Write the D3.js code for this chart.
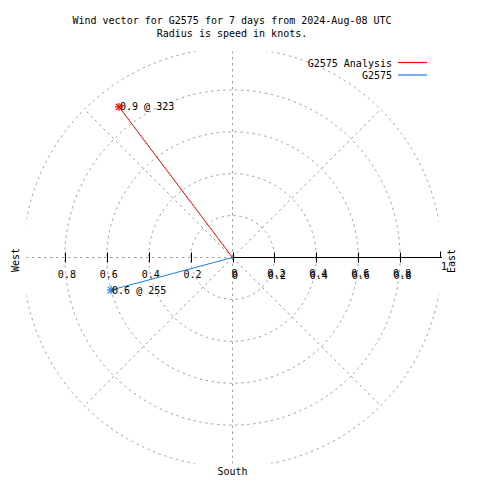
<!DOCTYPE html>
<html><head><meta charset="utf-8">
<script src="https://cdn.jsdelivr.net/npm/d3@7"></script>
<style>
body{margin:0;background:#fff;}
text{font-family:"DejaVu Sans Mono",monospace;font-size:10px;fill:#000;}
</style></head>
<body><svg id="c" width="480" height="480"></svg>
<script>
const titleLines = ["Wind vector for G2575 for 7 days from 2024-Aug-08 UTC", "Radius is speed in knots."];
const seriesNames = ["G2575 Analysis", "G2575"];
const seriesColors = ["#ff0000", "#1a80e6"];
const speeds = [0.9, 0.6];
const directions = [323, 255];
const gridRadii = [0.2, 0.4, 0.6, 0.8, 1.0];
const spokeAngles = [0, 45, 90, 135, 180, 225, 270, 315];
const rightTicks = [0, 0.2, 0.4, 0.6, 0.8, 1];
const leftTicks = [0.8, 0.6, 0.4, 0.2];
const compassLabels = ["East", "West", "South"];

const svg = d3.select("#c");
const cx = 232.5, cy = 257.5;
const r = d3.scaleLinear().domain([0, 1]).range([0, 209.5]);
const xs = d3.scaleLinear().domain([-1, 1]).range([cx - 209.5, cx + 209.5]);
const px = (s, a) => cx + r(s) * Math.sin(a * Math.PI / 180);
const py = (s, a) => cy - r(s) * Math.cos(a * Math.PI / 180);

svg.append("clipPath").attr("id", "gclip").append("rect")
  .attr("x", cx - 206).attr("y", cy - 206).attr("width", 412).attr("height", 412);

const grid = svg.append("g").attr("clip-path", "url(#gclip)")
  .attr("fill", "none").attr("stroke", "#a0a0a0").attr("stroke-width", 1)
  .attr("stroke-dasharray", "2.5,3.5");
grid.selectAll("circle").data(gridRadii).join("circle")
  .attr("cx", cx).attr("cy", cy).attr("r", d => r(d));
grid.selectAll("line").data(spokeAngles).join("line")
  .attr("x1", cx).attr("y1", cy)
  .attr("x2", d => px(1, d)).attr("y2", d => py(1, d));

// axis
const ax = svg.append("g").attr("stroke", "#000").attr("stroke-width", 1);
ax.append("line").attr("x1", xs(0)).attr("x2", xs(1)).attr("y1", cy).attr("y2", cy);
ax.selectAll("line.rt").data(rightTicks.slice(0, -1)).join("line").attr("class", "rt")
  .attr("x1", d => Math.round(xs(d)) + 0.5).attr("x2", d => Math.round(xs(d)) + 0.5)
  .attr("y1", cy - 5).attr("y2", cy + 5);
ax.append("line").attr("x1", Math.round(xs(1)) - 1.5).attr("x2", Math.round(xs(1)) - 1.5)
  .attr("y1", cy - 6).attr("y2", cy);
ax.selectAll("line.lt").data(leftTicks).join("line").attr("class", "lt")
  .attr("x1", d => Math.round(xs(-d)) + 0.5).attr("x2", d => Math.round(xs(-d)) + 0.5)
  .attr("y1", cy - 5).attr("y2", cy + 5);

// tick labels (right side is overprinted twice, as in the reference)
svg.selectAll("text.ll").data(leftTicks).join("text").attr("class", "ll")
  .attr("x", d => xs(-d) + 2).attr("y", 278).attr("text-anchor", "middle")
  .text(d => d3.format("")(d));
svg.selectAll("text.rl").data(rightTicks.slice(0, -1)).join("text").attr("class", "rl")
  .attr("x", d => xs(d) + 2).attr("y", 276.5).attr("text-anchor", "middle")
  .text(d => d3.format("")(d));
svg.selectAll("text.rl2").data(rightTicks.slice(0, -1)).join("text").attr("class", "rl2")
  .attr("x", d => xs(d) + 2.5).attr("y", 278.5).attr("text-anchor", "middle")
  .text(d => d3.format("")(d));
svg.append("text").attr("x", xs(1) + 2).attr("y", 270).attr("text-anchor", "middle").text("1");

// compass labels
svg.append("text").attr("transform", "translate(455,261) rotate(-90)")
  .attr("text-anchor", "middle").text(compassLabels[0]);
svg.append("text").attr("transform", "translate(19,260) rotate(-90)")
  .attr("text-anchor", "middle").text(compassLabels[1]);
svg.append("text").attr("x", cx).attr("y", 475).attr("text-anchor", "middle").text(compassLabels[2]);

// title
svg.selectAll("text.title").data(titleLines).join("text").attr("class", "title")
  .attr("x", 232).attr("y", (d, i) => 24 + i * 12.5).attr("text-anchor", "middle").text(d => d);

// vectors
const data = seriesNames.map((n, i) => ({name: n, color: seriesColors[i], s: speeds[i], a: directions[i]}));
const vg = svg.append("g");
vg.selectAll("line").data(data).join("line")
  .attr("x1", cx).attr("y1", cy)
  .attr("x2", d => px(d.s, d.a)).attr("y2", d => py(d.s, d.a))
  .attr("stroke", d => d.color).attr("stroke-width", 1);
const star = vg.selectAll("g.star").data(data).join("g").attr("class", "star")
  .attr("transform", d => `translate(${px(d.s, d.a)},${py(d.s, d.a)})`)
  .attr("stroke", d => d.color).attr("stroke-width", 1.2);
const k = 4;
star.append("line").attr("x1", -k).attr("x2", k).attr("y1", 0).attr("y2", 0);
star.append("line").attr("x1", 0).attr("x2", 0).attr("y1", -k).attr("y2", k);
star.append("line").attr("x1", -k * 0.8).attr("x2", k * 0.8).attr("y1", -k * 0.8).attr("y2", k * 0.8);
star.append("line").attr("x1", -k * 0.8).attr("x2", k * 0.8).attr("y1", k * 0.8).attr("y2", -k * 0.8);
vg.selectAll("text").data(data).join("text")
  .attr("x", d => px(d.s, d.a) + 1).attr("y", d => py(d.s, d.a) + 3.5)
  .text(d => `${d.s} @ ${d.a}`);

// legend
const lg = svg.append("g");
data.forEach((d, i) => {
  lg.append("text").attr("x", 392).attr("y", 67 + i * 12).attr("text-anchor", "end").text(d.name);
  lg.append("line").attr("x1", 398).attr("x2", 427).attr("y1", 62.5 + i * 12.5).attr("y2", 62.5 + i * 12.5)
    .attr("stroke", d.color).attr("stroke-width", 1.2);
});
</script></body></html>
